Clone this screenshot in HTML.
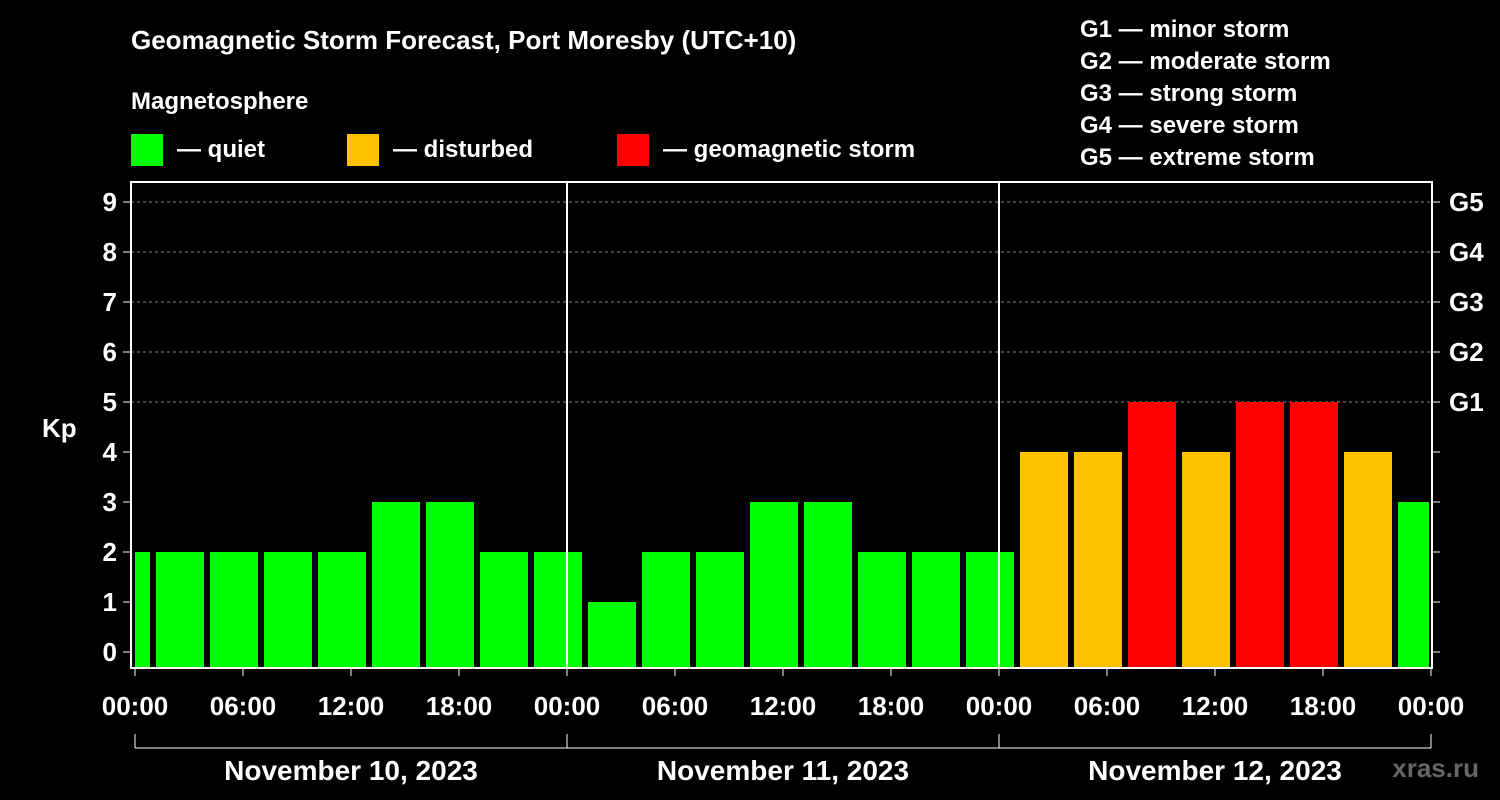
<!DOCTYPE html>
<html><head><meta charset="utf-8"><style>
html,body{margin:0;padding:0;background:#000;}
svg{display:block;font-family:"Liberation Sans",Arial,sans-serif;font-weight:bold;}
</style></head><body>
<svg id="chart" width="1500" height="800" viewBox="0 0 1500 800">
<rect x="0" y="0" width="1500" height="800" fill="#000"/>
<text x="131" y="49" fill="#fff" font-size="26">Geomagnetic Storm Forecast, Port Moresby (UTC+10)</text>
<text x="131" y="109" fill="#fff" font-size="24">Magnetosphere</text>
<g><rect x="131" y="134" width="32" height="32" fill="#00ff00"/><text x="177" y="157" fill="#fff" font-size="24">— quiet</text></g>
<g><rect x="347" y="134" width="32" height="32" fill="#ffc000"/><text x="393" y="157" fill="#fff" font-size="24">— disturbed</text></g>
<g><rect x="617" y="134" width="32" height="32" fill="#ff0000"/><text x="663" y="157" fill="#fff" font-size="24">— geomagnetic storm</text></g>
<g fill="#fff" font-size="24">
<text x="1080" y="37">G1 — minor storm</text>
<text x="1080" y="69">G2 — moderate storm</text>
<text x="1080" y="101">G3 — strong storm</text>
<text x="1080" y="133">G4 — severe storm</text>
<text x="1080" y="165">G5 — extreme storm</text>
</g>
<text x="42" y="437" fill="#fff" font-size="26">Kp</text>
<text x="1479" y="777" fill="#666" font-size="26" text-anchor="end">xras.ru</text>
<g id="grid"></g><g id="bars"></g><g id="axes"></g>
</svg>
<script>
const kpValues=[2,2,2,2,2,3,3,2,2,1,2,2,3,3,2,2,2,4,4,5,4,5,5,4,3];
const dayLabels=["November 10, 2023","November 11, 2023","November 12, 2023"];
const timeLabels=["00:00","06:00","12:00","18:00"];
const yTicks=[0,1,2,3,4,5,6,7,8,9];
const gLabels=["G1","G2","G3","G4","G5"];

const NS="http://www.w3.org/2000/svg";
const X0=135,DAY=432,PL=131,PR=1432,PT=182,PB=668;
const xH=h=>X0+h*DAY/24;
const yK=k=>652-k*50;
function mk(tag,attrs,parent){const e=document.createElementNS(NS,tag);for(const k in attrs)e.setAttribute(k,attrs[k]);parent.appendChild(e);return e;}
const grid=document.getElementById('grid'),bars=document.getElementById('bars'),axes=document.getElementById('axes');
// gridlines
for(let k=5;k<=9;k++){const l=mk('line',{x1:PL,x2:PR,y1:yK(k),y2:yK(k),stroke:'#888','stroke-dasharray':'3,3','stroke-width':1},grid);

}
// bars
kpValues.forEach((v,i)=>{const c=xH(i*3-0.5);let x1=Math.max(c-24,X0),x2=Math.min(c+24,PR-3);
const col=v>=5?'#ff0000':(v>=4?'#ffc000':'#00ff00');
const r=mk('rect',{x:x1,y:yK(v),width:x2-x1,height:PB-yK(v),fill:col},bars);

});
// frame
const f=mk('rect',{x:PL,y:PT,width:PR-PL,height:PB-PT,fill:'none',stroke:'#fff','stroke-width':2},axes);


for(let d=1;d<3;d++){const l=mk('line',{x1:xH(d*24),x2:xH(d*24),y1:PT,y2:PB,stroke:'#fff','stroke-width':2},axes);

}
// y ticks
yTicks.forEach(k=>{const y=yK(k);
mk('line',{x1:PL-8,x2:PL,y1:y,y2:y,stroke:'#fff','stroke-width':1},axes);
mk('line',{x1:PR,x2:PR+8,y1:y,y2:y,stroke:'#fff','stroke-width':1},axes);
const t=mk('text',{x:PL-14,y:y+9,fill:'#fff','font-size':26,'text-anchor':'end'},axes);t.textContent=k;

});
gLabels.forEach((g,i)=>{const t=mk('text',{x:1449,y:yK(5+i)+9,fill:'#fff','font-size':26},axes);t.textContent=g;

});
// x ticks
for(let h=0;h<=72;h+=6){const x=xH(h);
mk('line',{x1:x,x2:x,y1:PB,y2:PB+8,stroke:'#fff','stroke-width':1},axes);
const t=mk('text',{x:x,y:715,fill:'#fff','font-size':26,'text-anchor':'middle'},axes);t.textContent=timeLabels[(h/6)%4];

}
// day bracket
mk('line',{x1:xH(0),x2:xH(72),y1:748,y2:748,stroke:'#fff','stroke-width':1},axes);
for(let d=0;d<=3;d++)mk('line',{x1:xH(d*24),x2:xH(d*24),y1:734,y2:748,stroke:'#fff','stroke-width':1},axes);
dayLabels.forEach((s,d)=>{const t=mk('text',{x:xH(d*24+12),y:780,fill:'#fff','font-size':28,'text-anchor':'middle'},axes);t.textContent=s;

});
</script>
</body></html>
